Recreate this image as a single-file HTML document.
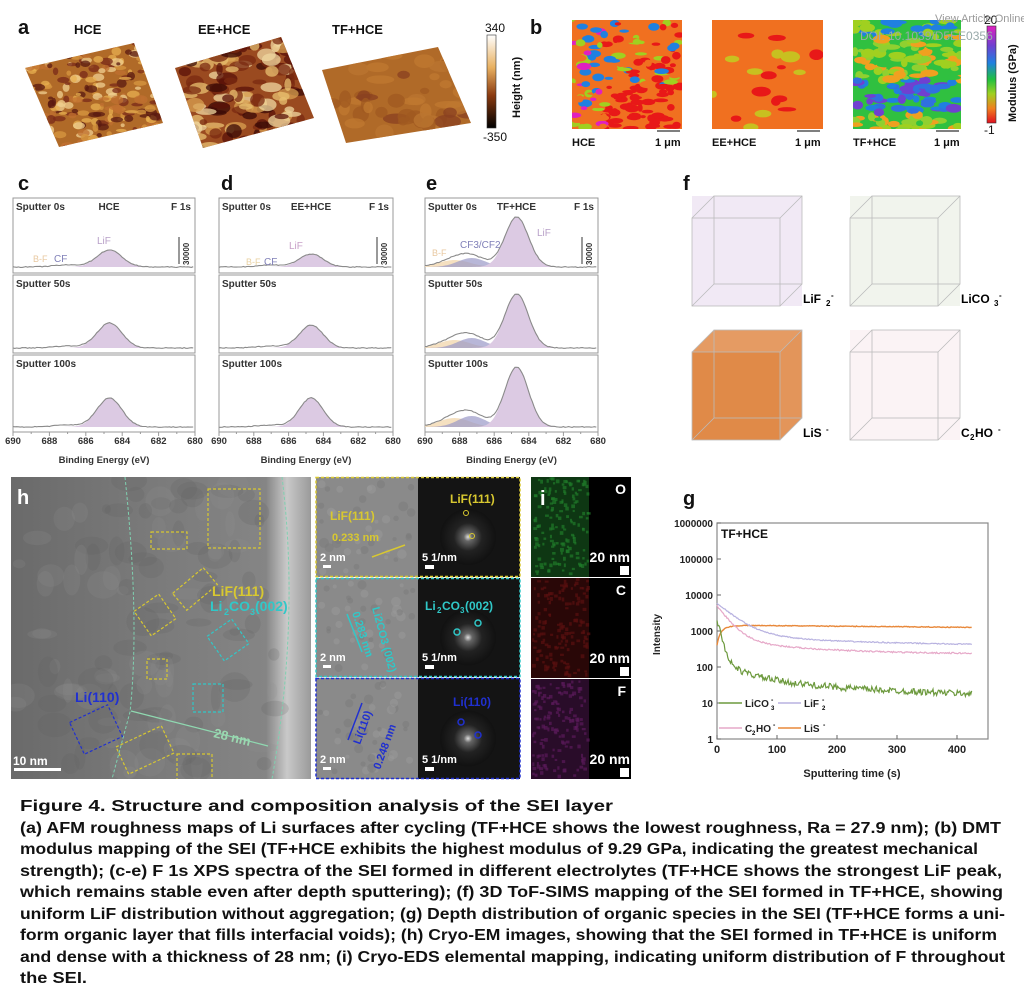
<!DOCTYPE html>
<html><head><meta charset="utf-8"><style>
html,body{margin:0;padding:0;background:#fff;}
svg{display:block;}
text{font-family:"Liberation Sans",Arial,sans-serif;}
.cap{font-family:"Liberation Sans","Noto Sans CJK SC",sans-serif;font-size:15.5px;fill:#111;font-weight:bold;}
</style></head><body>
<svg id="s" xmlns="http://www.w3.org/2000/svg" width="1024" height="993" viewBox="0 0 1024 993">
<defs>
<linearGradient id="hcb" x1="0" y1="0" x2="0" y2="1"><stop offset="0" stop-color="#fff"/><stop offset="0.35" stop-color="#e8b060"/><stop offset="0.65" stop-color="#8a3a10"/><stop offset="1" stop-color="#000"/></linearGradient>
<linearGradient id="mcb" x1="0" y1="0" x2="0" y2="1"><stop offset="0" stop-color="#e020c0"/><stop offset="0.2" stop-color="#7040d0"/><stop offset="0.38" stop-color="#2080e0"/><stop offset="0.55" stop-color="#20c040"/><stop offset="0.7" stop-color="#a0d020"/><stop offset="0.85" stop-color="#f08020"/><stop offset="1" stop-color="#e01020"/></linearGradient>
<linearGradient id="tem" x1="0" y1="0" x2="1" y2="0"><stop offset="0" stop-color="#6a6a6a"/><stop offset="0.4" stop-color="#787878"/><stop offset="0.85" stop-color="#858585"/><stop offset="0.92" stop-color="#c9c9c9"/><stop offset="1" stop-color="#9a9a9a"/></linearGradient>
<radialGradient id="fft"><stop offset="0" stop-color="#ddd"/><stop offset="0.15" stop-color="#666"/><stop offset="0.5" stop-color="#222"/><stop offset="1" stop-color="#111"/></radialGradient>
<clipPath id="temclip"><rect x="11" y="477" width="300" height="302"/></clipPath>
<clipPath id="midclip"><rect x="316" y="477" width="204" height="302"/></clipPath>
</defs>
<rect width="1024" height="993" fill="#fff"/>
<g id="root"></g>
<g font-weight="bold" fill="#111">
<text x="18" y="34" font-size="20">a</text>
<text x="74" y="34" font-size="13">HCE</text>
<text x="198" y="34" font-size="13">EE+HCE</text>
<text x="332" y="34" font-size="13">TF+HCE</text>
<text x="485" y="32" font-size="12" font-weight="normal">340</text>
<text x="483" y="141" font-size="12" font-weight="normal">-350</text>
<text x="520" y="118" font-size="11" transform="rotate(-90 520 118)">Height (nm)</text>
<text x="530" y="34" font-size="20">b</text>
<text x="572" y="146" font-size="11">HCE</text><text x="655" y="146" font-size="11">1 μm</text>
<text x="712" y="146" font-size="11">EE+HCE</text><text x="795" y="146" font-size="11">1 μm</text>
<text x="853" y="146" font-size="11">TF+HCE</text><text x="934" y="146" font-size="11">1 μm</text>
<text x="984" y="24" font-size="12" font-weight="normal">20</text>
<text x="984" y="134" font-size="12" font-weight="normal">-1</text>
<text x="1016" y="122" font-size="11" transform="rotate(-90 1016 122)">Modulus (GPa)</text>
</g>
<rect x="487" y="35" width="9" height="93" fill="url(#hcb)" stroke="#333" stroke-width="0.6"/>
<rect x="987" y="26" width="9" height="97" fill="url(#mcb)" stroke="#333" stroke-width="0.6"/>
<line x1="657" y1="131" x2="680" y2="131" stroke="#555" stroke-width="1.5"/><line x1="797" y1="131" x2="820" y2="131" stroke="#555" stroke-width="1.5"/><line x1="936" y1="131" x2="959" y2="131" stroke="#555" stroke-width="1.5"/>
<text x="935" y="22" font-size="11" fill="#9a9a9a">View Article Online</text>
<text x="860" y="40" font-size="12" fill="#9aa">DOI: 10.1039/D5EE0356</text>
<g font-weight="bold" fill="#111" font-size="20"><text x="18" y="190">c</text><text x="221" y="190">d</text><text x="426" y="190">e</text><text x="683" y="190">f</text><text x="683" y="505">g</text></g>
<g class="cap">
<text x="20" y="811" textLength="593" lengthAdjust="spacingAndGlyphs">Figure 4. Structure and composition analysis of the SEI layer</text>
<text x="20" y="833" textLength="981" lengthAdjust="spacingAndGlyphs">(a) AFM roughness maps of Li surfaces after cycling (TF+HCE shows the lowest roughness, Ra = 27.9 nm); (b) DMT</text>
<text x="20" y="854" textLength="958" lengthAdjust="spacingAndGlyphs">modulus mapping of the SEI (TF+HCE exhibits the highest modulus of 9.29 GPa, indicating the greatest mechanical</text>
<text x="20" y="876" textLength="982" lengthAdjust="spacingAndGlyphs">strength); (c-e) F 1s XPS spectra of the SEI formed in different electrolytes (TF+HCE shows the strongest LiF peak,</text>
<text x="20" y="897" textLength="983" lengthAdjust="spacingAndGlyphs">which remains stable even after depth sputtering); (f) 3D ToF-SIMS mapping of the SEI formed in TF+HCE, showing</text>
<text x="20" y="919" textLength="985" lengthAdjust="spacingAndGlyphs">uniform LiF distribution without aggregation; (g) Depth distribution of organic species in the SEI (TF+HCE forms a uni-</text>
<text x="20" y="940" textLength="977" lengthAdjust="spacingAndGlyphs">form organic layer that fills interfacial voids); (h) Cryo-EM images, showing that the SEI formed in TF+HCE is uniform</text>
<text x="20" y="962" textLength="985" lengthAdjust="spacingAndGlyphs">and dense with a thickness of 28 nm; (i) Cryo-EDS elemental mapping, indicating uniform distribution of F throughout</text>
<text x="20" y="983" textLength="67" lengthAdjust="spacingAndGlyphs">the SEI.</text>
</g>
</svg>
<script>
(function(){
var NS="http://www.w3.org/2000/svg",root=document.getElementById("root");
var seed=7;function rnd(){seed=(seed*16807)%2147483647;return (seed-1)/2147483646;}
function el(t,a,p){var e=document.createElementNS(NS,t);for(var k in a)e.setAttribute(k,a[k]);(p||root).appendChild(e);return e;}
function txt(x,y,s,a,p){var e=el("text",Object.assign({x:x,y:y},a||{}),p);e.textContent=s;return e;}
function afm(id,pts,base,cols,n,r){
 var cp=el("clipPath",{id:id});el("polygon",{points:pts},cp);
 var g=el("g",{"clip-path":"url(#"+id+")"});
 el("rect",{x:0,y:0,width:1024,height:200,fill:base},g);
 var xs=pts.split(" ").map(function(p){return +p.split(",")[0]}),ys=pts.split(" ").map(function(p){return +p.split(",")[1]});
 var x0=Math.min.apply(0,xs),x1=Math.max.apply(0,xs),y0=Math.min.apply(0,ys),y1=Math.max.apply(0,ys);
 for(var i=0;i<n;i++)el("ellipse",{cx:x0+rnd()*(x1-x0),cy:y0+rnd()*(y1-y0),rx:r*(0.4+rnd()),ry:r*(0.3+rnd()*0.6),fill:cols[Math.floor(rnd()*cols.length)],opacity:0.75},g);
}
afm("a1","25,68 134,43 163,123 59,147","#b06a28",["#e8b050","#7a2a18","#d89840","#f0d090","#5a1a10","#c07030"],260,5);
afm("a2","175,68 281,37 314,118 203,148","#9a4a20",["#f0d8a0","#5a1208","#d8a050","#3a0a05","#e8c070","#7a2a10"],160,8);
afm("a3","322,70 438,47 471,123 346,143","#b06a28",["#c07a30","#a05a20","#bb7530","#8a4020"],60,10);
function mod(id,x,y,w,h,base,cols,n,r){
 var cp=el("clipPath",{id:id});el("rect",{x:x,y:y,width:w,height:h},cp);
 var g=el("g",{"clip-path":"url(#"+id+")"});el("rect",{x:x,y:y,width:w,height:h,fill:base},g);
 for(var i=0;i<n;i++){var c=cols(i);el("ellipse",{cx:x+c[1]*w,cy:y+c[2]*h,rx:r*(0.5+rnd()),ry:r*(0.3+rnd()*0.5),fill:c[0]},g);}
}
mod("m1",572,20,110,109,"#f07020",function(i){var yy=rnd(),xx=rnd();var c;if(yy>0.6&&xx>0.3)c="#e81818";else if(xx<0.3)c=["#e020c0","#2080e0","#a0d020","#f07020","#f07020"][Math.floor(rnd()*5)];else c=["#f07020","#e81818","#f07020","#a0d020","#2080e0"][Math.floor(rnd()*5)];return [c,xx,yy];},220,5);
mod("m2",712,20,111,109,"#f07020",function(i){var c=rnd()<0.6?"#c8c020":"#e81818";return [c,rnd(),rnd()];},18,7);
mod("m3",853,20,108,109,"#30c040",function(i){var yy=rnd(),xx=rnd();var c;if(yy>0.55&&yy<0.85)c=["#2080e0","#3070e0","#7040d0"][Math.floor(rnd()*3)];else if(yy<0.15)c=["#2080e0","#a0d020"][Math.floor(rnd()*2)];else c=["#a0d020","#30c040","#90d030","#f0a020"][Math.floor(rnd()*4)];return [c,xx,yy];},200,6);
function gauss(x,m,s){return Math.exp(-0.5*Math.pow((x-m)/s,2));}
function xps(x0,x1,title,heights,extra){
 var rows=[[198,273],[275,353],[355,432]],names=["Sputter 0s","Sputter 50s","Sputter 100s"];
 var X=function(E){return x0+(690-E)/10*(x1-x0);};
 rows.forEach(function(r,i){
  el("rect",{x:x0,y:r[0],width:x1-x0,height:r[1]-r[0],fill:"none",stroke:"#999","stroke-width":1});
  var b=r[1]-(i==0?6:5),H=heights[i];
  function pathFor(f,close){var d="";for(var E=690;E>=680;E-=0.1){var v=f(E);d+=(d?"L":"M")+X(E).toFixed(1)+","+(b-v).toFixed(1);}if(close)d+="L"+X(680)+","+b+"L"+X(690)+","+b+"Z";return d;}
  if(extra){var e=extra[i];
   el("path",{d:pathFor(function(E){return e[0]*gauss(E,688.3,0.9);},true),fill:"#f2d8b0",opacity:0.8});
   el("path",{d:pathFor(function(E){return e[1]*gauss(E,687.3,0.8);},true),fill:"#9a98c8",opacity:0.7});
  }
  el("path",{d:pathFor(function(E){return H*gauss(E,684.7,0.68);},true),fill:"#dccae3"});
  el("path",{d:pathFor(function(E){var v=H*gauss(E,684.7,0.68);if(extra)v+=extra[i][0]*gauss(E,688.3,0.9)+extra[i][1]*gauss(E,687.3,0.8);else v+=2*gauss(E,687,0.8);return v+(rnd()-0.5)*0.8;},false),fill:"none",stroke:"#8a8a8a","stroke-width":1.1});
  txt(x0+3,r[0]+12,names[i],{"font-size":10,"font-weight":"bold",fill:"#333"});
 });
 txt((x0+x1)/2+5,210,title,{"font-size":10,"font-weight":"bold",fill:"#333","text-anchor":"middle"});
 txt(x1-4,210,"F 1s",{"font-size":10,"font-weight":"bold",fill:"#333","text-anchor":"end"});
 el("line",{x1:x1-16,y1:237,x2:x1-16,y2:264,stroke:"#333","stroke-width":1});
 txt(x1-6,265,"30000",{"font-size":8,"font-weight":"bold",fill:"#333",transform:"rotate(-90 "+(x1-6)+" 265)"});
 for(var k=0;k<=5;k++){var E=690-2*k;txt(X(E),444,String(E),{"font-size":9.5,"font-weight":"bold",fill:"#333","text-anchor":"middle"});}
 for(var E=690;E>=680;E-=1)el("line",{x1:X(E),y1:432,x2:X(E),y2:E%2?434:436,stroke:"#999"});
 txt((x0+x1)/2,463,"Binding Energy (eV)",{"font-size":9.5,"font-weight":"bold",fill:"#333","text-anchor":"middle"});
}
xps(13,195,"HCE",[17,25,29],null);
xps(219,393,"EE+HCE",[13,23,29],null);
xps(425,598,"TF+HCE",[50,54,60],[[7,9],[8,10],[9,11]]);
txt(97,244,"LiF",{"font-size":10,fill:"#b8a0c8"});txt(54,262,"CF",{"font-size":10,fill:"#8080b8"});txt(33,262,"B-F",{"font-size":9,fill:"#e8c8a0"});
txt(289,249,"LiF",{"font-size":10,fill:"#c8a0c8"});txt(264,265,"CF",{"font-size":10,fill:"#8080b8"});txt(246,265,"B-F",{"font-size":9,fill:"#e8d0a0"});
txt(537,236,"LiF",{"font-size":10,fill:"#b8a0c8"});txt(460,248,"CF3/CF2",{"font-size":10,fill:"#8080b8"});txt(432,256,"B-F",{"font-size":9,fill:"#e8c8a0"});
function cube(x,y,s,d,col,fill){
 var g=el("g",{});
 if(fill){el("polygon",{points:[x,y+d,x+s,y+d,x+s,y+d+s,x,y+d+s].join(","),fill:fill},g);
  el("polygon",{points:[x,y+d,x+d,y,x+d+s,y,x+s,y+d].join(","),fill:fill,opacity:0.85},g);
  el("polygon",{points:[x+s,y+d,x+s+d,y,x+s+d,y+s,x+s,y+d+s].join(","),fill:fill,opacity:0.9},g);}
 else{el("rect",{x:x,y:y,width:s+d,height:s+d,fill:col,opacity:0.25},g);}
 var st={stroke:"#bbb","stroke-width":0.8,fill:"none"};
 el("rect",Object.assign({x:x,y:y+d,width:s,height:s},st),g);el("rect",Object.assign({x:x+d,y:y,width:s,height:s},st),g);
 [[x,y+d,x+d,y],[x+s,y+d,x+s+d,y],[x,y+d+s,x+d,y+s],[x+s,y+d+s,x+s+d,y+s]].forEach(function(l){el("line",Object.assign({x1:l[0],y1:l[1],x2:l[2],y2:l[3]},st),g);});
}
cube(692,196,88,22,"#c8a8d8",null);cube(850,196,88,22,"#c8d4b8",null);
cube(692,330,88,22,null,"#e08a48");cube(850,330,88,22,"#f0d0d8",null);
txt(803,303,"LiF",{"font-size":12,"font-weight":"bold"});txt(961,303,"LiCO",{"font-size":12,"font-weight":"bold"});
txt(803,437,"LiS",{"font-size":12,"font-weight":"bold"});txt(961,437,"C",{"font-size":12,"font-weight":"bold"});
txt(826,306,"2",{"font-size":8,"font-weight":"bold"});txt(831,298,"-",{"font-size":8,"font-weight":"bold"});
txt(994,306,"3",{"font-size":8,"font-weight":"bold"});txt(999,298,"-",{"font-size":8,"font-weight":"bold"});
txt(826,432,"-",{"font-size":8,"font-weight":"bold"});
txt(970,440,"2",{"font-size":8,"font-weight":"bold"});txt(975,437,"HO",{"font-size":12,"font-weight":"bold"});txt(998,432,"-",{"font-size":8,"font-weight":"bold"});
// TEM
var tg=el("g",{"clip-path":"url(#temclip)"});
el("rect",{x:11,y:477,width:300,height:302,fill:"url(#tem)"},tg);
for(var i=0;i<120;i++)el("ellipse",{cx:15+rnd()*260,cy:480+rnd()*295,rx:4+rnd()*14,ry:4+rnd()*12,fill:rnd()<0.5?"#5e5e5e":"#909090",opacity:0.2},tg);
el("path",{d:"M125,477 Q140,620 130,712 L112,779",fill:"none",stroke:"#7fd0b0","stroke-width":1,"stroke-dasharray":"3,2"},tg);
el("path",{d:"M282,477 Q300,620 272,779",fill:"none",stroke:"#7fd0b0","stroke-width":1,"stroke-dasharray":"3,2"},tg);
el("line",{x1:131,y1:711,x2:268,y2:746,stroke:"#8fd8b0","stroke-width":1.2},tg);
txt(213,737,"28 nm",{"font-size":13,"font-weight":"bold",fill:"#9ad8b0",transform:"rotate(14 213 737)"});
var Y="#d8c830",C="#30c8c8",B="#2030d0";
function dr(x,y,w,h,c,rot){el("rect",{x:x,y:y,width:w,height:h,fill:"none",stroke:c,"stroke-width":1.2,"stroke-dasharray":"3,2",transform:rot?"rotate("+rot+" "+(x+w/2)+" "+(y+h/2)+")":""},tg);}
dr(208,489,52,59,Y);dr(151,532,36,17,Y);dr(175,578,40,22,Y,-40);dr(140,600,30,30,Y,-35);dr(147,659,20,20,Y);dr(120,735,50,30,Y,-25);dr(177,754,35,26,Y);
dr(213,625,30,30,C,-35);dr(193,684,30,28,C);dr(75,712,42,35,B,-25);
txt(212,596,"LiF(111)",{"font-size":14,"font-weight":"bold",fill:Y});
txt(210,611,"Li",{"font-size":14,"font-weight":"bold",fill:C});txt(224,615,"2",{"font-size":9,"font-weight":"bold",fill:C});txt(229,611,"CO",{"font-size":14,"font-weight":"bold",fill:C});txt(250,615,"3",{"font-size":9,"font-weight":"bold",fill:C});txt(255,611,"(002)",{"font-size":14,"font-weight":"bold",fill:C});
txt(75,702,"Li(110)",{"font-size":14,"font-weight":"bold",fill:B});
txt(17,504,"h",{"font-size":20,"font-weight":"bold",fill:"#fff"});
el("rect",{x:14,y:768,width:47,height:3,fill:"#fff"});txt(13,765,"10 nm",{"font-size":12,"font-weight":"bold",fill:"#fff"});
var mg=el("g",{"clip-path":"url(#midclip)"});
var rows=[[477,577,Y],[578,677,C],[678,779,B]];
rows.forEach(function(r,i){
 el("rect",{x:316,y:r[0],width:102,height:r[1]-r[0],fill:"#8a8a8a"},mg);
 for(var k=0;k<40;k++)el("circle",{cx:320+rnd()*94,cy:r[0]+5+rnd()*(r[1]-r[0]-10),r:2+rnd()*3,fill:rnd()<0.5?"#7a7a7a":"#9a9a9a",opacity:0.5},mg);
 el("rect",{x:418,y:r[0],width:102,height:r[1]-r[0],fill:"#141414"},mg);
 el("circle",{cx:468,cy:(r[0]+r[1])/2+10,r:28,fill:"url(#fft)"},mg);
 el("rect",{x:316,y:r[0]+0.5,width:204,height:r[1]-r[0]-1,fill:"none",stroke:r[2],"stroke-width":1.5,"stroke-dasharray":"3,2"});
 el("rect",{x:323,y:r[1]-12,width:8,height:3,fill:"#fff"});txt(320,r[1]-16,"2 nm",{"font-size":11,"font-weight":"bold",fill:"#fff"});
 el("rect",{x:425,y:r[1]-12,width:9,height:4,fill:"#fff"});txt(422,r[1]-16,"5 1/nm",{"font-size":11,"font-weight":"bold",fill:"#fff"});
});
txt(450,503,"LiF(111)",{"font-size":12,"font-weight":"bold",fill:Y});
txt(330,520,"LiF(111)",{"font-size":12,"font-weight":"bold",fill:Y});txt(332,541,"0.233 nm",{"font-size":11,"font-weight":"bold",fill:Y});
el("line",{x1:372,y1:557,x2:405,y2:545,stroke:Y,"stroke-width":1.5});
el("circle",{cx:466,cy:513,r:2.5,fill:"none",stroke:Y});el("circle",{cx:472,cy:536,r:2.5,fill:"none",stroke:Y});
txt(425,610,"Li",{"font-size":12,"font-weight":"bold",fill:C});txt(437,613,"2",{"font-size":8,"font-weight":"bold",fill:C});txt(442,610,"CO",{"font-size":12,"font-weight":"bold",fill:C});txt(460,613,"3",{"font-size":8,"font-weight":"bold",fill:C});txt(465,610,"(002)",{"font-size":12,"font-weight":"bold",fill:C});
el("circle",{cx:457,cy:632,r:3,fill:"none",stroke:C,"stroke-width":1.5});el("circle",{cx:478,cy:623,r:3,fill:"none",stroke:C,"stroke-width":1.5});
txt(372,608,"Li2CO3 (002)",{"font-size":11,"font-weight":"bold",fill:C,transform:"rotate(75 372 608)"});
txt(352,613,"0.283 nm",{"font-size":11,"font-weight":"bold",fill:C,transform:"rotate(72 352 613)"});
el("line",{x1:347,y1:614,x2:362,y2:652,stroke:C,"stroke-width":1.5});
txt(453,706,"Li(110)",{"font-size":12,"font-weight":"bold",fill:B});
el("circle",{cx:461,cy:722,r:3,fill:"none",stroke:B,"stroke-width":1.5});el("circle",{cx:478,cy:735,r:3,fill:"none",stroke:B,"stroke-width":1.5});
txt(360,745,"Li(110)",{"font-size":11,"font-weight":"bold",fill:B,transform:"rotate(-70 360 745)"});
txt(380,770,"0.248 nm",{"font-size":11,"font-weight":"bold",fill:B,transform:"rotate(-70 380 770)"});
el("line",{x1:348,y1:740,x2:362,y2:703,stroke:B,"stroke-width":1.5});
var ecol=[["#1f7a2a","O"],["#5a1010","C"],["#5a1a5a","F"]];
ecol.forEach(function(c,i){var y0=477+i*101;
 el("rect",{x:531,y:y0,width:100,height:100,fill:"#000"});
 for(var k=0;k<150;k++)el("rect",{x:532+rnd()*55,y:y0+rnd()*96,width:2+rnd()*2,height:2+rnd()*2,fill:c[0],opacity:0.7});
 el("rect",{x:531,y:y0,width:58,height:100,fill:c[0],opacity:0.45});
 txt(626,y0+17,c[1],{"font-size":14,"font-weight":"bold",fill:"#fff","text-anchor":"end"});
 txt(630,y0+85,"20 nm",{"font-size":14,"font-weight":"bold",fill:"#fff","text-anchor":"end"});
 el("rect",{x:620,y:y0+89,width:9,height:9,fill:"#fff"});
});
txt(540,505,"i",{"font-size":20,"font-weight":"bold",fill:"#fff"});
var gx0=717,gx1=988,gy0=523,gy1=739;
function GX(t){return gx0+t*(958-718)/400;}function GY(v){return gy1-Math.log10(v)*36;}
el("rect",{x:gx0,y:gy0,width:gx1-gx0,height:gy1-gy0,fill:"none",stroke:"#888","stroke-width":1.2});
var labs=["1","10","100","1000","10000","100000","1000000"];
for(var k=0;k<7;k++){var yy=GY(Math.pow(10,k));el("line",{x1:gx0,y1:yy,x2:gx0+4,y2:yy,stroke:"#666"});txt(713,yy+4,labs[k],{"font-size":10,"font-weight":"bold",fill:"#222","text-anchor":"end"});}
for(var t=0;t<=400;t+=100){el("line",{x1:GX(t),y1:gy1,x2:GX(t),y2:gy1-4,stroke:"#666"});txt(GX(t),753,String(t),{"font-size":11,"font-weight":"bold",fill:"#222","text-anchor":"middle"});}
txt(852,777,"Sputtering time (s)",{"font-size":11,"font-weight":"bold",fill:"#222","text-anchor":"middle"});
txt(660,655,"Intensity",{"font-size":10,"font-weight":"bold",fill:"#222",transform:"rotate(-90 660 655)"});
txt(721,538,"TF+HCE",{"font-size":12,"font-weight":"bold",fill:"#111"});
function series(f,noise,col,w){var d="";for(var t=0;t<=425;t+=1.5){var v=f(t)*Math.pow(10,(rnd()-0.5)*noise);d+=(d?"L":"M")+GX(t).toFixed(1)+","+GY(v).toFixed(1);}el("path",{d:d,fill:"none",stroke:col,"stroke-width":w||1.2});}
series(function(t){return 400+1050*(1-Math.exp(-t/10))-0.45*t;},0.02,"#e8883a",1.4);
series(function(t){return 380+5200*Math.exp(-t/28)+400*Math.exp(-t/200);},0.03,"#b8b2e0");
series(function(t){return 230+4500*Math.exp(-t/18)+350*Math.exp(-t/120);},0.04,"#e6a8c8");
series(function(t){return 14+2000*Math.exp(-t/6)+90*Math.exp(-t/40)+35*Math.exp(-t/200);},0.18,"#6d9a3e");
el("line",{x1:719,y1:703,x2:742,y2:703,stroke:"#6d9a3e","stroke-width":1.5});txt(745,707,"LiCO",{"font-size":10,"font-weight":"bold",fill:"#222"});txt(771,710,"3",{"font-size":6,"font-weight":"bold"});txt(771,702,"-",{"font-size":7,"font-weight":"bold"});
el("line",{x1:778,y1:703,x2:801,y2:703,stroke:"#b8b2e0","stroke-width":1.5});txt(804,707,"LiF",{"font-size":10,"font-weight":"bold",fill:"#222"});txt(822,710,"2",{"font-size":6,"font-weight":"bold"});txt(822,702,"-",{"font-size":7,"font-weight":"bold"});
el("line",{x1:719,y1:728,x2:742,y2:728,stroke:"#e6a8c8","stroke-width":1.5});txt(745,732,"C",{"font-size":10,"font-weight":"bold",fill:"#222"});txt(752,735,"2",{"font-size":6,"font-weight":"bold"});txt(756,732,"HO",{"font-size":10,"font-weight":"bold",fill:"#222"});txt(773,727,"-",{"font-size":7,"font-weight":"bold"});
el("line",{x1:778,y1:728,x2:801,y2:728,stroke:"#e8883a","stroke-width":1.5});txt(804,732,"LiS",{"font-size":10,"font-weight":"bold",fill:"#222"});txt(823,727,"-",{"font-size":7,"font-weight":"bold"});
})();
</script>
</body></html>
